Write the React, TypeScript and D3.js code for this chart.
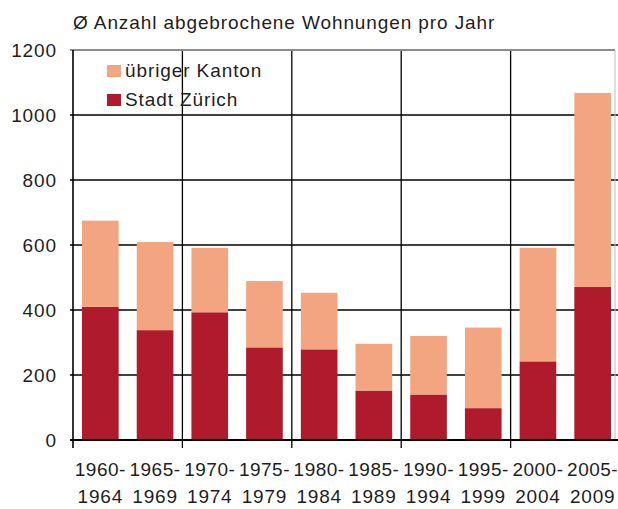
import { useEffect, useRef } from "react";
import * as d3 from "d3";

const periodStart = ["1960-", "1965-", "1970-", "1975-", "1980-", "1985-", "1990-", "1995-", "2000-", "2005-"];
const periodEnd = ["1964", "1969", "1974", "1979", "1984", "1989", "1994", "1999", "2004", "2009"];
const stadtZuerich = [410, 338, 393, 285, 279, 152, 140, 98, 242, 471];
const uebrigerKanton = [265, 271, 198, 204, 174, 144, 180, 248, 349, 597];
const yTicks = [0, 200, 400, 600, 800, 1000, 1200];

const seriesNames = ["Stadt Zürich", "übriger Kanton"];
const seriesColors = ["#AF1A2D", "#F2A580"];

const W = 618;
const H = 509;

export default function App() {
  const ref = useRef<SVGSVGElement | null>(null);

  useEffect(() => {
    if (!ref.current) return;
    const margin = { top: 50, left: 73, right: -2, bottom: 69 };
    const plotRight = W - margin.right;
    const plotBottom = H - margin.bottom;
    const font = "'Liberation Sans', Arial, sans-serif";

    const svg = d3.select(ref.current);
    svg.selectAll("*").remove();

    // every text in the reference is a bit wider than plain Arial
    const label = (sel: d3.Selection<any, any, any, any>, spacing = 0.9) =>
      sel
        .style("font-family", font)
        .style("font-size", "19px")
        .style("letter-spacing", `${spacing}px`)
        .attr("fill", "#1e1e1e");

    const rows = periodStart.map((p, i) => ({
      key: p,
      stadt: stadtZuerich[i],
      kanton: uebrigerKanton[i],
    }));

    const x = d3
      .scaleBand<string>()
      .domain(periodStart)
      .range([margin.left, plotRight])
      .paddingInner(0.33)
      .paddingOuter(0.165);

    const y = d3.scaleLinear().domain([0, 1200]).range([plotBottom, margin.top]);

    const step = x.step();
    const edge = (i: number) => (x(periodStart[i]) as number) - (step - x.bandwidth()) / 2;

    // grid first, the bars sit on top of it
    const grid = svg.append("g");
    grid
      .selectAll("line.h")
      .data(yTicks.filter((t) => t > 0 && t < 1200))
      .join("line")
      .attr("x1", margin.left - 3)
      .attr("x2", plotRight)
      .attr("y1", (d) => y(d))
      .attr("y2", (d) => y(d))
      .attr("stroke", "#000")
      .attr("stroke-width", 1.3);

    grid
      .selectAll("line.v")
      .data([2, 4, 6, 8])
      .join("line")
      .attr("x1", (d) => edge(d))
      .attr("x2", (d) => edge(d))
      .attr("y1", margin.top)
      .attr("y2", plotBottom + 8)
      .attr("stroke", "#000")
      .attr("stroke-width", 1.3);

    // chart area border (top + right, light gray)
    grid
      .append("line")
      .attr("x1", margin.left - 3)
      .attr("x2", 615)
      .attr("y1", y(1200))
      .attr("y2", y(1200))
      .attr("stroke", "#8c8c8c")
      .attr("stroke-width", 2);
    grid
      .append("line")
      .attr("x1", 615)
      .attr("x2", 615)
      .attr("y1", y(1200))
      .attr("y2", plotBottom)
      .attr("stroke", "#bdbdbd")
      .attr("stroke-width", 1);

    const stack = d3.stack<(typeof rows)[number]>().keys(["stadt", "kanton"]);
    const layers = stack(rows as any);

    layers.forEach((layer, li) => {
      svg
        .append("g")
        .attr("fill", seriesColors[li])
        .selectAll("rect")
        .data(layer)
        .join("rect")
        .attr("x", (d) => x(d.data.key) as number)
        .attr("width", x.bandwidth())
        .attr("y", (d) => y(d[1]))
        .attr("height", (d) => y(d[0]) - y(d[1]));
    });

    // axes
    svg
      .append("line")
      .attr("x1", margin.left)
      .attr("x2", margin.left)
      .attr("y1", margin.top)
      .attr("y2", plotBottom + 8)
      .attr("stroke", "#000")
      .attr("stroke-width", 1.6);
    svg
      .append("line")
      .attr("x1", margin.left - 3)
      .attr("x2", W)
      .attr("y1", plotBottom)
      .attr("y2", plotBottom)
      .attr("stroke", "#000")
      .attr("stroke-width", 1.8);

    svg
      .append("g")
      .selectAll("text")
      .data(yTicks)
      .join("text")
      .attr("x", 57)
      .attr("y", (d) => y(d))
      .attr("dy", "0.35em")
      .attr("text-anchor", "end")
      .call(label)
      .text((d) => d);

    const xl = svg.append("g");
    xl.selectAll("text.a")
      .data(periodStart)
      .join("text")
      .attr("x", (d) => (x(d) as number) + x.bandwidth() / 2)
      .attr("y", 476)
      .attr("text-anchor", "middle")
      .call(label, 0.5)
      .text((d) => d);
    xl.selectAll("text.b")
      .data(periodEnd)
      .join("text")
      .attr("x", (_d, i) => (x(periodStart[i]) as number) + x.bandwidth() / 2)
      .attr("y", 503)
      .attr("text-anchor", "middle")
      .call(label, 0.8)
      .text((d) => d);

    // title
    svg
      .append("text")
      .attr("x", 73)
      .attr("y", 29)
      .call(label)
      .text("Ø Anzahl abgebrochene Wohnungen pro Jahr");

    // legend (kanton on top)
    const legendOrder = [1, 0];
    const legend = svg.append("g").attr("transform", "translate(107, 65)");
    legendOrder.forEach((si, i) => {
      const item = legend.append("g").attr("transform", `translate(0, ${i * 29})`);
      item.append("rect").attr("width", 14).attr("height", 12).attr("fill", seriesColors[si]);
      item
        .append("text")
        .attr("x", 18)
        .attr("y", 12)
        .call(label)
        .text(seriesNames[si]);
    });
  }, []);

  return (
    <svg
      ref={ref}
      width={W}
      height={H}
      style={{ position: "absolute", left: 0, top: 0, background: "#fff" }}
    ></svg>
  );
}
